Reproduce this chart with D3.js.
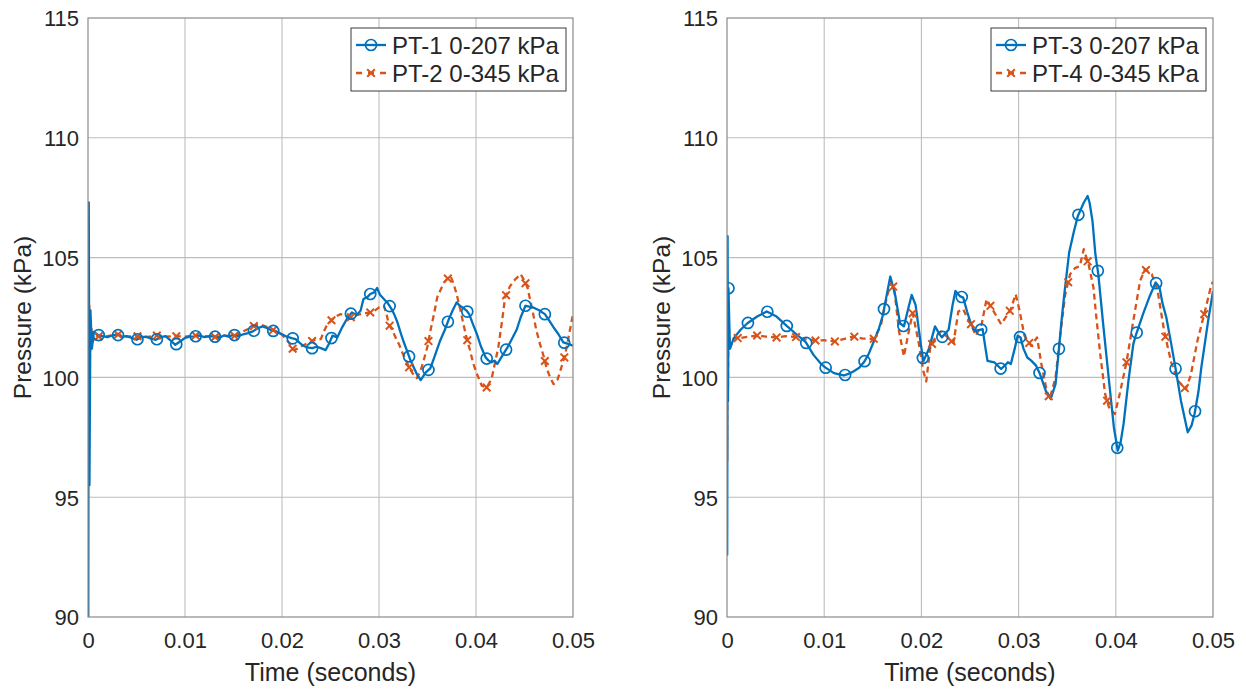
<!DOCTYPE html>
<html>
<head>
<meta charset="utf-8">
<script src="https://cdn.jsdelivr.net/npm/d3@7"></script>
<style>
  html, body { margin: 0; padding: 0; background: #fff; }
  svg { display: block; }
  text { font-family: "Liberation Sans", Arial, Helvetica, sans-serif; fill: #262626; }
</style>
</head>
<body>
<svg id="chart" width="1246" height="691"></svg>
<script>
// ---------------- DATA ----------------
const xTicks = [0, 0.01, 0.02, 0.03, 0.04, 0.05];
const yTicks = [90, 95, 100, 105, 110, 115];
const xLabel = "Time (seconds)";
const yLabel = "Pressure (kPa)";

const pt1Name = "PT-1 0-207 kPa";
const pt1T = [0, 0.00003, 0.00008, 0.00015, 0.00025, 0.0004, 0.0006, 0.001, 0.0015, 0.002, 0.0025, 0.003, 0.0035, 0.004, 0.0045, 0.005, 0.0055, 0.006, 0.0065, 0.007, 0.0075, 0.008, 0.0085, 0.009, 0.0095, 0.010, 0.0105, 0.011, 0.0115, 0.012, 0.0125, 0.013, 0.0135, 0.014, 0.0145, 0.015, 0.0155, 0.016, 0.0165, 0.017, 0.0175, 0.018, 0.0185, 0.019, 0.0195, 0.020, 0.0205, 0.021, 0.0214, 0.0218, 0.0222, 0.0226, 0.0231, 0.0236, 0.024, 0.0245, 0.0249, 0.0252, 0.0257, 0.0262, 0.0267, 0.0272, 0.0277, 0.0281, 0.0284, 0.0288, 0.0291, 0.0295, 0.0298, 0.0301, 0.0305, 0.0309, 0.0313, 0.0316, 0.0319, 0.0322, 0.0325, 0.0329, 0.0332, 0.0336, 0.0339, 0.0343, 0.0348, 0.0353, 0.0358, 0.0363, 0.0368, 0.0372, 0.0376, 0.038, 0.0383, 0.0386, 0.039, 0.0393, 0.0397, 0.0401, 0.0405, 0.041, 0.0413, 0.0416, 0.0419, 0.0422, 0.0427, 0.0432, 0.0437, 0.0442, 0.0446, 0.0451, 0.0455, 0.0459, 0.0465, 0.0471, 0.0475, 0.048, 0.0485, 0.049, 0.0495, 0.05];
const pt1P = [101.5, 90, 107.3, 95.5, 102.8, 101.2, 101.9, 101.78, 101.72, 101.68, 101.75, 101.78, 101.7, 101.72, 101.65, 101.57, 101.68, 101.7, 101.62, 101.57, 101.68, 101.72, 101.55, 101.36, 101.5, 101.65, 101.7, 101.71, 101.75, 101.68, 101.72, 101.71, 101.65, 101.75, 101.7, 101.78, 101.72, 101.8, 101.85, 101.92, 102.05, 102.13, 102.05, 101.95, 101.9, 101.8, 101.7, 101.64, 101.6, 101.45, 101.32, 101.25, 101.22, 101.28, 101.22, 101.14, 101.45, 101.74, 101.67, 102.09, 102.45, 102.71, 102.6, 102.78, 103.27, 103.35, 103.48, 103.55, 103.73, 103.45, 103.27, 103.1, 102.85, 102.6, 102.3, 101.9, 101.53, 101.1, 100.76, 100.4, 100.14, 99.89, 100.2, 100.39, 100.95, 101.53, 102.0, 102.43, 102.8, 103.13, 103.0, 102.92, 102.8, 102.64, 102.2, 101.8, 101.3, 100.83, 100.7, 100.63, 100.7, 100.56, 100.9, 101.22, 101.6, 102.0, 102.5, 102.99, 102.95, 102.92, 102.8, 102.64, 102.4, 102.09, 101.8, 101.46, 101.4, 101.32];

const pt2Name = "PT-2 0-345 kPa";
const pt2T = [0, 0.00003, 0.00008, 0.00013, 0.0002, 0.0003, 0.0005, 0.0008, 0.0012, 0.002, 0.003, 0.004, 0.005, 0.006, 0.007, 0.008, 0.009, 0.010, 0.011, 0.012, 0.013, 0.014, 0.015, 0.0155, 0.016, 0.0165, 0.017, 0.0175, 0.018, 0.0185, 0.019, 0.0195, 0.020, 0.0204, 0.0207, 0.021, 0.0212, 0.0216, 0.0219, 0.0226, 0.0233, 0.024, 0.0243, 0.0246, 0.0252, 0.0256, 0.026, 0.0266, 0.0272, 0.0277, 0.0281, 0.0286, 0.0291, 0.0296, 0.030, 0.0305, 0.0308, 0.031, 0.0314, 0.0317, 0.0321, 0.0324, 0.0328, 0.0331, 0.0335, 0.0339, 0.0343, 0.0346, 0.035, 0.0353, 0.0357, 0.036, 0.0364, 0.0367, 0.037, 0.0374, 0.0377, 0.038, 0.0384, 0.0387, 0.039, 0.0394, 0.0397, 0.0401, 0.0406, 0.0411, 0.0416, 0.0419, 0.0423, 0.0427, 0.043, 0.0435, 0.0439, 0.0446, 0.0449, 0.0453, 0.0456, 0.0459, 0.0462, 0.0466, 0.047, 0.0473, 0.0477, 0.048, 0.0484, 0.0487, 0.0492, 0.0496, 0.05];
const pt2P = [101.5, 104.2, 96.6, 103.0, 100.8, 102.2, 101.5, 101.75, 101.7, 101.72, 101.8, 101.7, 101.72, 101.68, 101.75, 101.7, 101.72, 101.7, 101.75, 101.72, 101.68, 101.75, 101.72, 101.8, 101.92, 102.02, 102.13, 102.2, 102.17, 102.1, 102.0, 101.9, 101.78, 101.6, 101.46, 101.25, 101.14, 101.2, 101.28, 101.42, 101.56, 101.6, 101.9, 102.16, 102.43, 102.55, 102.64, 102.58, 102.5, 102.6, 102.64, 102.68, 102.71, 102.8, 102.92, 102.99, 102.6, 102.23, 101.95, 101.67, 101.35, 101.04, 100.7, 100.42, 100.15, 99.97, 100.3, 100.7, 101.3, 101.95, 102.7, 103.34, 103.7, 103.96, 104.1, 104.2, 103.9, 103.48, 102.8, 102.23, 101.7, 101.11, 100.6, 100.14, 99.65, 99.58, 99.93, 100.5, 101.25, 102.4, 103.34, 103.8, 104.03, 104.31, 104.1, 103.76, 103.2, 102.64, 102.0, 101.39, 100.85, 100.35, 99.95, 99.72, 99.9, 100.28, 100.97, 101.8, 102.64];

const pt3Name = "PT-3 0-207 kPa";
const pt3T = [0, 0.00002, 0.00006, 0.0001, 0.00015, 0.0003, 0.0007, 0.0014, 0.0021, 0.0031, 0.0041, 0.0051, 0.0062, 0.0072, 0.0081, 0.0089, 0.0096, 0.0101, 0.011, 0.012, 0.0125, 0.013, 0.0136, 0.0141, 0.0146, 0.0151, 0.0156, 0.016, 0.0165, 0.0168, 0.0173, 0.0178, 0.0182, 0.0187, 0.019, 0.0194, 0.0199, 0.0202, 0.0208, 0.0214, 0.0218, 0.0221, 0.0228, 0.0232, 0.0235, 0.024, 0.0243, 0.0247, 0.025, 0.0254, 0.0256, 0.0263, 0.0266, 0.0268, 0.0275, 0.0282, 0.0286, 0.0289, 0.0292, 0.0296, 0.0299, 0.0302, 0.0305, 0.0309, 0.0313, 0.0318, 0.0322, 0.0328, 0.0333, 0.0338, 0.0341, 0.0344, 0.0347, 0.0352, 0.0357, 0.0361, 0.0367, 0.0371, 0.0373, 0.0376, 0.0379, 0.0382, 0.0387, 0.0393, 0.0398, 0.0402, 0.0405, 0.0408, 0.0413, 0.0418, 0.0421, 0.0428, 0.0435, 0.0441, 0.0445, 0.0448, 0.0452, 0.0457, 0.0462, 0.0467, 0.0474, 0.0478, 0.0481, 0.0485, 0.0488, 0.0495, 0.05];
const pt3P = [101.5, 92.6, 105.9, 99.0, 103.72, 101.2, 101.64, 101.99, 102.26, 102.54, 102.75, 102.54, 102.13, 101.78, 101.47, 100.94, 100.6, 100.42, 100.18, 100.08, 100.15, 100.25, 100.4, 100.64, 101.0, 101.5, 102.0, 102.54, 103.58, 104.21, 103.44, 102.26, 102.13, 102.96, 103.44, 103.03, 101.5, 100.67, 101.22, 102.13, 101.85, 101.67, 101.99, 103.0, 103.61, 103.38, 103.33, 102.75, 102.36, 101.99, 101.94, 102.01, 101.2, 100.69, 100.63, 100.35, 100.5, 100.63, 100.56, 101.2, 101.74, 101.67, 101.2, 100.83, 100.7, 100.49, 100.14, 99.44, 99.1, 99.72, 100.97, 102.3, 103.47, 105.21, 106.11, 106.74, 107.29, 107.57, 107.3, 106.53, 105.14, 104.31, 102.22, 99.86, 97.92, 96.94, 97.3, 98.06, 99.86, 101.39, 101.81, 102.64, 103.4, 103.96, 103.75, 103.1, 102.5, 101.4, 100.25, 99.03, 97.71, 98.0, 98.47, 99.4, 100.42, 102.36, 103.6];

const pt4Name = "PT-4 0-345 kPa";
const pt4T = [0, 0.00002, 0.00006, 0.0001, 0.00015, 0.0003, 0.0007, 0.0014, 0.0022, 0.0031, 0.004, 0.0051, 0.006, 0.0072, 0.008, 0.0091, 0.010, 0.0111, 0.012, 0.013, 0.014, 0.0151, 0.0158, 0.0165, 0.0169, 0.0172, 0.0177, 0.0182, 0.0187, 0.0191, 0.0197, 0.0202, 0.0205, 0.0209, 0.0213, 0.022, 0.0226, 0.0233, 0.0238, 0.0243, 0.0247, 0.0251, 0.0256, 0.0262, 0.0267, 0.0273, 0.0278, 0.0282, 0.0289, 0.0292, 0.0297, 0.0301, 0.0306, 0.0313, 0.0319, 0.0324, 0.0329, 0.0332, 0.0338, 0.0343, 0.0348, 0.0353, 0.0358, 0.0363, 0.0367, 0.0372, 0.0377, 0.038, 0.0384, 0.0389, 0.0393, 0.0399, 0.0404, 0.0411, 0.0418, 0.0425, 0.043, 0.0437, 0.0443, 0.045, 0.0457, 0.0464, 0.0472, 0.0477, 0.0484, 0.0491, 0.0498, 0.05];
const pt4P = [101.5, 96.5, 103.6, 99.5, 102.5, 101.2, 101.64, 101.64, 101.7, 101.75, 101.7, 101.67, 101.72, 101.68, 101.6, 101.54, 101.55, 101.5, 101.6, 101.71, 101.62, 101.61, 102.13, 103.44, 103.93, 103.72, 101.92, 100.88, 101.92, 102.68, 101.5, 100.25, 99.83, 101.22, 101.57, 101.92, 101.71, 101.43, 102.75, 102.85, 102.5, 102.22, 101.74, 102.22, 103.26, 102.85, 102.5, 102.22, 102.64, 102.85, 103.47, 102.78, 101.74, 101.32, 101.67, 100.42, 99.44, 99.1, 100.0, 101.81, 103.47, 104.31, 104.56, 104.65, 105.35, 104.72, 103.75, 102.5, 100.97, 99.31, 98.75, 98.47, 99.31, 100.63, 102.36, 104.03, 104.51, 104.31, 103.61, 101.88, 100.63, 99.86, 99.51, 100.07, 101.53, 102.64, 103.82, 104.0];

// marker spacing (seconds) and first-marker time per series
const markerStep = 0.002;
const markerStart = { pt1: 0.0011, pt2: 0.0011, pt3: 0.00015, pt4: 0.0011 };

// ---------------- LAYOUT ----------------
const BLUE = "#0072BD", ORANGE = "#D95319";
const panels = [
  { x0: 88, x1: 573, y0: 18, y1: 617,
    series: [
      { name: pt1Name, t: pt1T, p: pt1P, color: BLUE, dash: null, marker: "o", mk: markerStart.pt1 },
      { name: pt2Name, t: pt2T, p: pt2P, color: ORANGE, dash: "6,4", marker: "x", mk: markerStart.pt2 }
    ] },
  { x0: 727, x1: 1213, y0: 18, y1: 617,
    series: [
      { name: pt3Name, t: pt3T, p: pt3P, color: BLUE, dash: null, marker: "o", mk: markerStart.pt3 },
      { name: pt4Name, t: pt4T, p: pt4P, color: ORANGE, dash: "6,4", marker: "x", mk: markerStart.pt4 }
    ] }
];

const svg = d3.select("#chart");

function valueAt(ts, ps, t) {
  const i = d3.bisectLeft(ts, t);
  if (i <= 0) return ps[0];
  if (i >= ts.length) return ps[ps.length - 1];
  const f = (t - ts[i - 1]) / (ts[i] - ts[i - 1]);
  return ps[i - 1] + f * (ps[i] - ps[i - 1]);
}

function drawMarker(g, type, cx, cy, color) {
  if (type === "o") {
    g.append("circle").attr("cx", cx).attr("cy", cy).attr("r", 5.5)
      .attr("fill", "none").attr("stroke", color).attr("stroke-width", 1.7);
  } else {
    const s = 3.8;
    g.append("path")
      .attr("d", `M${cx - s},${cy - s}L${cx + s},${cy + s}M${cx - s},${cy + s}L${cx + s},${cy - s}`)
      .attr("stroke", color).attr("stroke-width", 2).attr("fill", "none");
  }
}

panels.forEach((pn, idx) => {
  const x = d3.scaleLinear().domain([0, 0.05]).range([pn.x0, pn.x1]);
  const y = d3.scaleLinear().domain([90, 115]).range([pn.y1, pn.y0]);
  const g = svg.append("g");

  // grid
  g.append("g").selectAll("line").data(xTicks.slice(1, -1)).join("line")
    .attr("x1", d => x(d)).attr("x2", d => x(d)).attr("y1", pn.y0).attr("y2", pn.y1)
    .attr("stroke", "#bdbdbd").attr("stroke-width", 1.1);
  g.append("g").selectAll("line").data(yTicks.slice(1, -1)).join("line")
    .attr("x1", pn.x0).attr("x2", pn.x1).attr("y1", d => y(d)).attr("y2", d => y(d))
    .attr("stroke", "#bdbdbd").attr("stroke-width", 1.1);

  // axes
  const fmtX = d => d === 0 ? "0" : d3.format(".2f")(d);
  const xAxis = d3.axisBottom(x).tickValues(xTicks).tickFormat(fmtX).tickSize(0).tickPadding(12);
  const yAxis = d3.axisLeft(y).tickValues(yTicks).tickFormat(d3.format("d")).tickSize(0).tickPadding(9);
  const gx = g.append("g").attr("transform", `translate(0,${pn.y1})`).call(xAxis);
  const gy = g.append("g").attr("transform", `translate(${pn.x0},0)`).call(yAxis);
  [gx, gy].forEach(a => {
    a.select(".domain").remove();
    a.selectAll("text").style("font-size", "22px").style("font-family", "Liberation Sans, Arial, sans-serif").attr("fill", "#262626");
  });
  gx.selectAll("text").attr("dy", "0.85em");
  gy.selectAll("text").attr("dy", "0.36em");

  // clip + series
  const clipId = "clip" + idx;
  svg.append("clipPath").attr("id", clipId).append("rect")
    .attr("x", pn.x0).attr("y", pn.y0).attr("width", pn.x1 - pn.x0).attr("height", pn.y1 - pn.y0);
  const plot = g.append("g").attr("clip-path", `url(#${clipId})`);

  pn.series.slice().reverse().forEach(s => {
    const pts = s.t.map((t, i) => [t, s.p[i]]);
    const line = d3.line().x(d => x(d[0])).y(d => y(d[1]));
    plot.append("path").datum(pts).attr("d", line)
      .attr("fill", "none").attr("stroke", s.color).attr("stroke-width", 2.3)
      .attr("stroke-linejoin", "round")
      .attr("stroke-dasharray", s.dash);
  });
  pn.series.slice().reverse().forEach(s => {
    const mg = plot.append("g");
    for (let t = s.mk; t <= 0.05 + 1e-9; t += markerStep) {
      drawMarker(mg, s.marker, x(t), y(valueAt(s.t, s.p, t)), s.color);
    }
  });

  // box
  g.append("rect").attr("x", pn.x0).attr("y", pn.y0)
    .attr("width", pn.x1 - pn.x0).attr("height", pn.y1 - pn.y0)
    .attr("fill", "none").attr("stroke", "#8a8a8a").attr("stroke-width", 1.2);

  // axis labels
  g.append("text").attr("x", (pn.x0 + pn.x1) / 2).attr("y", 681)
    .attr("text-anchor", "middle").style("font-size", "25px").text(xLabel);
  g.append("text")
    .attr("transform", `translate(${pn.x0 - 57},${(pn.y0 + pn.y1) / 2}) rotate(-90)`)
    .attr("text-anchor", "middle").style("font-size", "24.5px").text(yLabel);

  // legend
  const lx = pn.x1 - 222, ly = 28, lw = 215, lh = 63;
  const lg = g.append("g");
  lg.append("rect").attr("x", lx).attr("y", ly).attr("width", lw).attr("height", lh)
    .attr("fill", "#fff").attr("stroke", "#3a3a3a").attr("stroke-width", 1);
  pn.series.forEach((s, i) => {
    const cy = ly + 17 + i * 28;
    lg.append("line").attr("x1", lx + 5).attr("x2", lx + 35).attr("y1", cy).attr("y2", cy)
      .attr("stroke", s.color).attr("stroke-width", 2.3).attr("stroke-dasharray", s.dash ? "6,6" : null);
    drawMarker(lg, s.marker, lx + 20, cy, s.color);
    lg.append("text").attr("x", lx + 41).attr("y", cy).attr("dy", "0.36em")
      .style("font-size", "24px").text(s.name);
  });
});
</script>
</body>
</html>
